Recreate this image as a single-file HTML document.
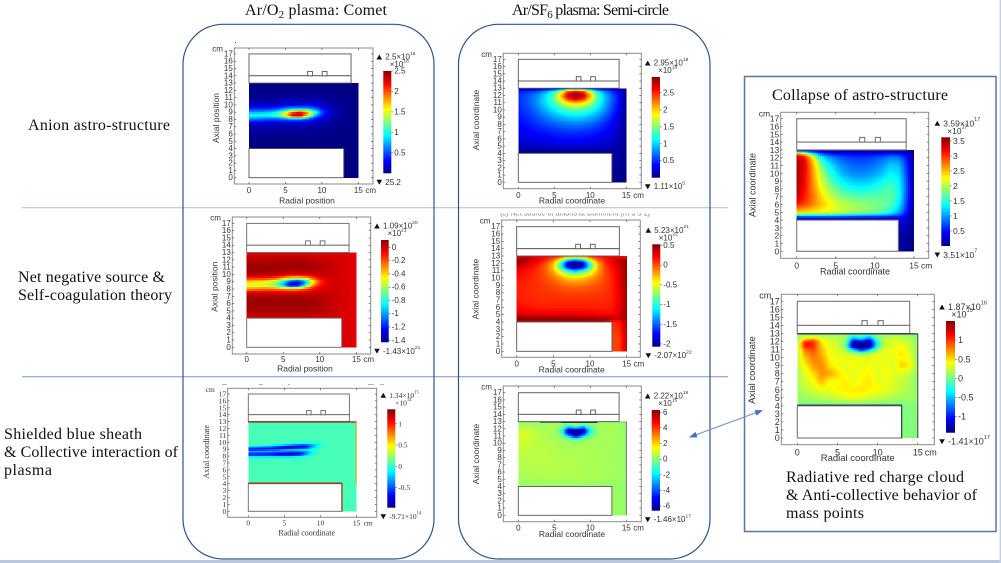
<!DOCTYPE html>
<html lang="en">
<head>
<meta charset="utf-8">
<title>Plasma astro-structure comparison</title>
<style>
html,body{margin:0;padding:0;background:#fff;width:1001px;height:563px;overflow:hidden}
svg{display:block}
.cap{font-family:"Liberation Serif",serif;font-size:16px;fill:#111}
.tick{fill:#333}
#panels{filter:blur(.35px)}
</style>
</head>
<body>
<svg id="root" xmlns="http://www.w3.org/2000/svg" width="1001" height="563" viewBox="0 0 1001 563">
  <defs id="defs">
    <marker id="ah" markerWidth="8" markerHeight="6" refX="7" refY="3" orient="auto-start-reverse"><path d="M0 0L8 3L0 6z" fill="#4472c4"/></marker>
    <clipPath id="clip-cut-title"><rect x="490" y="213.5" width="170" height="4"/></clipPath>
  </defs>
  <rect x="0" y="0" width="1001" height="563" fill="#fff"/>
  <rect x="0" y="560" width="1001" height="3" fill="#b8c7dc"/>
  <rect x="999.6" y="0" width="1.4" height="563" fill="#c3cfe0"/>
  <line x1="22" y1="207.7" x2="728" y2="207.7" stroke="#b4c6de" stroke-width="1.1"/>
  <line x1="22" y1="376.7" x2="728" y2="376.7" stroke="#8ba6c8" stroke-width="1.1"/>
  <rect x="183" y="24.3" width="251" height="534.7" rx="40" ry="40" fill="none" stroke="#2f5589" stroke-width="1.2"/>
  <rect x="458.5" y="24.3" width="251.5" height="534.7" rx="40" ry="40" fill="none" stroke="#2f5589" stroke-width="1.2"/>
  <rect x="744.5" y="76.5" width="251.5" height="455" fill="none" stroke="#5f7699" stroke-width="1.5"/>
  <text class="cap" x="245" y="15" textLength="142">Ar/O<tspan dy="3" font-size="11">2</tspan><tspan dy="-3"> plasma: Comet</tspan></text>
  <text class="cap" x="512" y="15" textLength="157">Ar/SF<tspan dy="3" font-size="11">6</tspan><tspan dy="-3"> plasma: Semi-circle</tspan></text>
  <text class="cap" x="28" y="130" textLength="142">Anion astro-structure</text>
  <text class="cap" x="18" y="282" textLength="147">Net negative source &amp;</text>
  <text class="cap" x="18" y="300" textLength="154">Self-coagulation theory</text>
  <text class="cap" x="4" y="439" textLength="138">Shielded blue sheath</text>
  <text class="cap" x="4" y="457" textLength="174">&amp; Collective interaction of</text>
  <text class="cap" x="4" y="475" textLength="48">plasma</text>
  <text class="cap" x="772" y="100" textLength="176">Collapse of astro-structure</text>
  <text class="cap" x="786" y="482" textLength="178">Radiative red charge cloud</text>
  <text class="cap" x="786" y="500" textLength="191">&amp; Anti-collective behavior of</text>
  <text class="cap" x="786" y="518" textLength="78">mass points</text>
  <line x1="690" y1="437" x2="762" y2="410.5" stroke="#6f8fc9" stroke-width="1" marker-start="url(#ah)" marker-end="url(#ah)"/>
  <circle cx="235.5" cy="42.5" r=".6" fill="#333"/>
  <text clip-path="url(#clip-cut-title)" x="500" y="215.5" textLength="150" font-size="7.5" fill="#777" font-family="'Liberation Sans',sans-serif">(c) Net source of anions at Comment (m-3 s-1)</text>
  <path d="M222 384.5h5M259 384.5h4M288 384.5h2M368 384.5h6M380 384.5h4" stroke="#999" stroke-width=".8" fill="none"/>
  <g id="panels"></g>
</svg>
<script>
// Axis grids (data coordinates in cm)
const tickR = [0, 5, 10, 15];
const tickZ = [0, 1, 2, 3, 4, 5, 6, 7, 8, 9, 10, 11, 12, 13, 14, 15, 16, 17];
const rCols = [0, 1, 2, 3, 4, 5, 6, 7, 8, 9, 10, 11, 12, 13, 14, 15];
const rFoot = [13, 14, 15];
const zFoot = [4, 2, 0];
const zComet = [13, 12.5, 12, 11, 10, 9.5, 9, 8.5, 8, 7.5, 7, 6, 5, 4];
const zFine = [13, 12.6, 12.2, 11.8, 11.4, 11, 10.5, 10, 9, 8, 7, 6, 5, 4.5, 4];
const zStreak = [13, 12, 11, 10, 9.75, 9.5, 9.25, 9, 8.75, 8.5, 8.25, 8, 7.75, 7, 6, 5, 4];

// Field values, rows follow the z grids above, columns follow rCols
const anionCometValues = [
[0,0,0,0,0,0,0,0,0,0,0,0,0,0,0,0],
[.01,.01,.01,.01,.01,.01,.01,.01,.01,.01,.01,.01,.01,.01,.01,0],
[.02,.02,.02,.02,.02,.02,.02,.02,.02,.02,.02,.02,.02,.01,.01,0],
[.04,.04,.04,.05,.05,.06,.06,.06,.06,.06,.06,.05,.03,.02,.01,0],
[.17,.17,.17,.18,.2,.24,.26,.26,.26,.25,.18,.11,.07,.04,.02,0],
[.38,.38,.38,.4,.46,.58,.7,.72,.68,.56,.34,.18,.09,.05,.02,0],
[.72,.72,.75,.82,1,1.45,1.95,2.2,1.9,1.15,.52,.24,.11,.05,.02,0],
[1,1,1,1.02,1.18,1.6,2.3,2.4,1.65,.75,.38,.19,.1,.05,.02,0],
[.6,.55,.5,.47,.47,.5,.55,.55,.44,.3,.2,.12,.07,.04,.02,0],
[.24,.23,.22,.2,.2,.2,.2,.2,.18,.15,.11,.08,.05,.03,.01,0],
[.12,.12,.11,.11,.11,.11,.11,.11,.1,.08,.06,.04,.03,.02,.01,0],
[.04,.04,.04,.04,.04,.04,.04,.04,.04,.03,.02,.02,.01,.01,.01,0],
[.01,.01,.01,.01,.01,.01,.01,.01,.01,.01,.01,.01,.01,.01,0,0],
[0,0,0,0,0,0,0,0,0,0,0,0,0,0,0,0]];
const anionCometFoot = [[0,0,0],[0,0,0],[0,0,0]];

const anionSemiValues = [
[0,.02,.02,.04,.05,.1,.15,.3,.35,.3,.15,.1,.05,.03,.02,0],
[.4,.45,.5,.6,.8,1.1,1.6,2.3,2.5,2.3,1.6,1,.7,.5,.3,.02],
[.5,.55,.65,.8,1.05,1.4,2,2.75,2.95,2.75,2,1.3,.9,.6,.35,.03],
[.5,.58,.7,.85,1.1,1.45,2.1,2.7,2.9,2.7,2.1,1.35,.95,.65,.37,.03],
[.5,.58,.7,.88,1.1,1.4,1.85,2.35,2.55,2.35,1.85,1.3,.95,.65,.37,.03],
[.5,.58,.7,.88,1.08,1.35,1.65,1.95,2.1,1.95,1.65,1.25,.92,.62,.35,.03],
[.48,.56,.68,.82,1,1.2,1.42,1.6,1.7,1.6,1.42,1.15,.88,.6,.34,.03],
[.46,.53,.63,.77,.92,1.08,1.22,1.33,1.38,1.33,1.22,1.03,.8,.56,.32,.03],
[.42,.47,.55,.64,.74,.84,.92,.98,1,.98,.9,.78,.62,.45,.27,.03],
[.37,.41,.46,.52,.58,.63,.68,.71,.72,.7,.66,.58,.47,.36,.23,.03],
[.32,.35,.38,.42,.45,.48,.5,.52,.52,.51,.48,.43,.37,.29,.19,.02],
[.26,.28,.3,.32,.34,.36,.38,.39,.39,.38,.36,.33,.29,.24,.15,.02],
[.18,.19,.2,.22,.23,.24,.25,.25,.25,.25,.24,.22,.2,.17,.1,.01],
[.1,.1,.1,.11,.11,.12,.12,.12,.12,.12,.12,.11,.11,.1,.07,.01],
[0,0,0,0,0,0,0,0,0,0,0,0,0,.12,.08,0]];
const anionSemiFoot = [[.12,.08,.01],[.08,.06,.01],[.03,.03,.01]];

const collapseValues = [
[0,0,.02,.03,.03,.03,.03,.03,.03,.03,.03,.03,.03,.02,.02,0],
[2.4,2,1.1,.65,.45,.37,.35,.33,.33,.33,.35,.38,.44,.4,.28,.02],
[3.3,3,2.1,1.25,.9,.72,.62,.58,.56,.58,.62,.68,.78,.76,.5,.02],
[3.45,3.2,2.45,1.55,1.15,.92,.78,.7,.68,.7,.76,.86,.98,.95,.6,.03],
[3.5,3.25,2.55,1.75,1.28,1.02,.86,.76,.73,.76,.83,.93,1.08,1.05,.65,.03],
[3.5,3.25,2.6,1.9,1.4,1.12,.93,.83,.8,.81,.88,1,1.18,1.14,.68,.03],
[3.5,3.25,2.65,2,1.5,1.2,1,.89,.86,.88,.96,1.08,1.26,1.2,.72,.03],
[3.5,3.2,2.65,2.1,1.6,1.3,1.08,.96,.93,.96,1.03,1.16,1.34,1.26,.75,.03],
[3.5,3.2,2.7,2.2,1.8,1.48,1.3,1.18,1.13,1.15,1.24,1.38,1.5,1.36,.8,.03],
[3.45,3.15,2.72,2.32,1.98,1.72,1.55,1.45,1.4,1.42,1.48,1.58,1.62,1.42,.82,.03],
[3.4,3.1,2.78,2.45,2.15,1.95,1.8,1.7,1.66,1.66,1.68,1.7,1.7,1.44,.8,.03],
[3.1,2.95,2.72,2.52,2.32,2.14,2.04,1.96,1.9,1.85,1.8,1.76,1.65,1.34,.72,.03],
[2.4,2.35,2.3,2.26,2.2,2.12,2.05,1.98,1.92,1.86,1.76,1.65,1.44,1.08,.56,.02],
[1,1,1,1,1,.95,.9,.9,.85,.8,.8,.75,.7,.6,.35,.02],
[.03,.03,.03,.03,.03,.03,.03,.03,.03,.03,.03,.03,.03,.35,.3,.02]];
const collapseFoot = [[.35,.3,.02],[.15,.12,.02],[.08,.06,.01]];

const radiativeValues = [
[.1,.1,.1,.1,.1,.1,.1,.1,.1,.1,.1,.1,.1,.1,.1,0],
[.12,.2,.25,.2,.18,.18,.1,-.3,-.1,-.4,.05,.15,.2,.2,.12,.05],
[.15,.7,.85,.4,.28,.25,.1,-.9,-.7,-1.1,-.05,.25,.3,.25,.2,.08],
[.15,1.15,1.05,.5,.3,.25,.05,-1.3,-1.3,-1.3,-.3,.28,.32,.33,.22,.1],
[.18,1.1,1,.55,.35,.28,0,-1.4,-1.42,-1.35,-.2,.3,.3,.4,.25,.1],
[.18,.85,.95,.6,.35,.32,.15,-.5,-1.1,-.6,.12,.3,.38,.42,.28,.1],
[.2,.7,.85,.62,.38,.32,.28,.2,.05,.2,.3,.38,.32,.5,.35,.1],
[.2,.6,.8,.7,.4,.35,.38,.3,.38,.3,.4,.3,.38,.4,.35,.1],
[.2,.45,.7,.75,.48,.38,.32,.42,.32,.4,.32,.38,.28,.55,.45,.12],
[.18,.32,.5,.72,.68,.5,.38,.32,.4,.42,.32,.38,.35,.3,.22,.1],
[.15,.3,.38,.62,.4,.4,.45,.35,.42,.48,.35,.35,.3,.25,.18,.1],
[.12,.22,.28,.35,.36,.42,.45,.45,.48,.42,.4,.35,.3,.2,.15,.1],
[.1,.12,.15,.18,.22,.28,.32,.38,.3,.28,.22,.2,.15,.15,.12,.1],
[.08,.08,.08,.08,.1,.12,.14,.14,.14,.12,.1,.1,.08,.08,.08,.08],
[.05,.05,.05,.05,.05,.05,.05,.05,.05,.05,.05,.05,.05,.05,.05,.05]];
const radiativeFoot = [[.05,.05,.05],[.05,.05,.05],[.05,.05,.05]];

const netCometValues = [
[-.05,-.05,-.05,-.05,-.05,-.05,-.05,-.05,-.05,-.05,-.05,-.05,-.05,-.05,-.05,-.04],
[-.01,-.01,-.01,-.01,-.01,-.01,-.01,-.01,-.01,-.01,-.02,-.02,-.02,-.03,-.03,-.04],
[.03,.03,.03,.03,.03,.03,.03,.03,.03,.02,.01,0,-.01,-.02,-.03,-.04],
[.07,.07,.07,.07,.07,.07,.07,.07,.07,.06,.04,.02,0,-.02,-.03,-.04],
[.05,.05,.04,.03,.02,.01,-.03,-.03,-.01,-.01,0,0,-.01,-.02,-.03,-.04],
[-.12,-.12,-.12,-.13,-.18,-.3,-.42,-.46,-.38,-.2,-.06,-.02,-.02,-.02,-.03,-.04],
[-.38,-.4,-.42,-.48,-.6,-.85,-1.15,-1.3,-1.05,-.55,-.18,-.04,-.02,-.02,-.03,-.04],
[-.58,-.58,-.58,-.6,-.72,-1,-1.35,-1.3,-.85,-.3,-.1,-.03,-.02,-.02,-.03,-.04],
[-.3,-.28,-.26,-.25,-.26,-.28,-.32,-.3,-.2,-.1,-.04,-.02,-.01,-.02,-.03,-.04],
[-.03,-.03,-.03,-.03,-.03,-.03,-.03,-.03,-.02,-.01,0,0,-.01,-.02,-.03,-.04],
[.05,.05,.05,.05,.05,.05,.05,.05,.05,.04,.03,.01,0,-.02,-.03,-.04],
[.07,.07,.07,.07,.07,.07,.07,.07,.07,.06,.04,.02,0,-.02,-.03,-.04],
[.05,.05,.05,.05,.05,.05,.05,.05,.05,.04,.03,.02,0,-.02,-.03,-.04],
[-.03,-.03,-.03,-.03,-.03,-.03,-.03,-.03,-.03,-.03,-.03,-.03,-.03,-.03,-.03,-.04]];
const netCometFoot = [[-.03,-.03,-.04],[-.03,-.03,-.04],[-.03,-.03,-.04]];

const netSemiValues = [
[.25,.25,.25,.2,.2,.15,.05,-.1,-.1,-.1,.05,.15,.2,.2,.2,.1],
[.45,.42,.35,.28,.15,0,-.3,-.8,-1,-.8,-.3,0,.15,.25,.35,.45],
[.48,.4,.3,.2,.05,-.2,-.8,-1.7,-1.95,-1.7,-.85,-.2,.1,.25,.38,.48],
[.38,.3,.22,.12,-.02,-.3,-1,-1.95,-2.07,-1.95,-1.05,-.3,.05,.2,.35,.48],
[.3,.25,.18,.1,-.03,-.3,-.9,-1.75,-2,-1.75,-.95,-.3,.03,.18,.32,.48],
[.25,.2,.15,.08,-.03,-.25,-.65,-1.1,-1.35,-1.1,-.68,-.27,.02,.15,.3,.48],
[.2,.17,.13,.07,-.02,-.15,-.38,-.6,-.7,-.6,-.4,-.17,.02,.14,.28,.48],
[.17,.15,.12,.07,0,-.08,-.2,-.32,-.36,-.32,-.22,-.1,.02,.12,.28,.48],
[.13,.12,.1,.08,.05,.02,-.03,-.06,-.08,-.07,-.03,0,.05,.12,.26,.46],
[.12,.12,.1,.09,.08,.07,.05,.04,.04,.04,.05,.06,.08,.12,.25,.46],
[.14,.13,.12,.1,.1,.1,.1,.1,.1,.1,.1,.1,.1,.14,.25,.46],
[.18,.17,.15,.14,.13,.13,.13,.13,.13,.13,.13,.13,.13,.15,.25,.46],
[.3,.28,.27,.25,.25,.25,.25,.25,.25,.25,.24,.22,.2,.2,.28,.46],
[.5,.5,.5,.5,.5,.5,.48,.48,.48,.48,.46,.46,.45,.4,.35,.46],
[.4,.4,.4,.4,.4,.4,.4,.4,.4,.4,.4,.4,.4,.1,.15,.4]];
const netSemiFoot = [[.1,.15,.4],[.03,.05,.35],[.03,.05,.35]];

const shieldCometValues = [
[.06,.06,.06,.06,.06,.06,.06,.06,.06,.06,.06,.06,.06,.06,.06,.06],
[.06,.06,.06,.06,.06,.06,.06,.06,.06,.06,.06,.06,.06,.06,.06,.06],
[.06,.06,.06,.06,.06,.06,.06,.06,.06,.06,.06,.06,.06,.06,.06,.06],
[.06,.06,.06,.06,.06,.06,.03,.03,.03,.03,.06,.06,.06,.06,.06,.06],
[.06,.06,.06,.06,.03,0,-.06,-.12,-.18,-.12,.01,.06,.06,.06,.06,.06],
[0,0,-.04,-.06,-.28,-.43,-.6,-.8,-.75,-.38,-.05,.05,.06,.06,.06,.06],
[-.33,-.38,-.5,-.6,-.75,-.85,-.9,-.8,-.65,-.18,0,.06,.06,.06,.06,.06],
[-.85,-.85,-.8,-.75,-.7,-.5,-.38,-.28,-.22,-.05,.04,.06,.06,.06,.06,.06],
[-.28,-.28,-.23,-.18,-.18,-.13,-.13,-.13,-.13,-.03,.05,.06,.06,.06,.06,.06],
[-.28,-.28,-.33,-.38,-.5,-.6,-.75,-.7,-.5,-.07,.05,.06,.06,.06,.06,.06],
[-.85,-.85,-.85,-.85,-.9,-.95,-.95,-.85,-.33,-.02,.05,.06,.06,.06,.06,.06],
[-.28,-.28,-.28,-.28,-.33,-.33,-.28,-.18,-.04,.04,.06,.06,.06,.06,.06,.06],
[.01,.01,.01,.01,.01,.01,.01,.01,.04,.06,.06,.06,.06,.06,.06,.06],
[.06,.06,.06,.06,.06,.06,.06,.06,.06,.06,.06,.06,.06,.06,.06,.06],
[.06,.06,.06,.06,.06,.06,.06,.06,.06,.06,.06,.06,.06,.06,.06,.06],
[.06,.06,.06,.06,.06,.06,.06,.06,.06,.06,.06,.06,.06,.06,.06,.06],
[.06,.06,.06,.06,.06,.06,.06,.06,.06,.06,.06,.06,.06,.06,.06,.06]];
const shieldCometFoot = [[.06,.06,.06],[.06,.06,.06],[.06,.06,.06]];

const shieldSemiValues = [
[.2,.2,.2,.2,.2,.2,.2,.2,.2,.2,.2,.2,.2,.2,.2,.1],
[.2,.25,.25,.2,.3,.3,.2,-.3,.7,-.3,-.1,.2,.3,.3,.2,.1],
[.5,.6,.45,.35,.35,.35,0,-3,-2,-3.5,-.6,.2,.35,.35,.25,.1],
[.7,.85,.65,.5,.4,.3,-.9,-6,-6,-6,-1.6,.1,.35,.35,.25,.1],
[.8,.95,.75,.55,.45,.3,-.6,-6,-6.3,-6,-1,.1,.35,.35,.25,.1],
[.85,1,.75,.55,.45,.35,0,-2.5,-5.5,-2.5,-.3,.2,.35,.35,.25,.1],
[.85,.95,.75,.55,.5,.4,.3,0,-.5,0,.2,.3,.35,.35,.25,.1],
[.75,.85,.7,.6,.5,.42,.35,.35,.25,.35,.35,.35,.35,.35,.25,.1],
[.65,.7,.65,.6,.55,.5,.42,.42,.42,.42,.4,.35,.35,.3,.25,.1],
[.55,.6,.6,.6,.55,.55,.5,.48,.42,.42,.42,.4,.35,.3,.25,.1],
[.5,.55,.58,.58,.55,.55,.5,.48,.48,.42,.42,.4,.35,.3,.25,.1],
[.4,.45,.48,.52,.52,.52,.48,.48,.48,.42,.4,.4,.35,.3,.25,.1],
[.25,.32,.35,.4,.42,.42,.42,.42,.42,.38,.35,.35,.28,.25,.22,.1],
[.2,.2,.22,.22,.25,.25,.25,.25,.25,.22,.22,.2,.2,.2,.2,.1],
[.2,.2,.2,.2,.2,.2,.2,.2,.2,.2,.2,.2,.2,.2,.2,.1]];
const shieldSemiFoot = [[.2,.2,.1],[.2,.2,.1],[.2,.2,.1]];

// Colour-bar tick labels
const anionCometBarTicks = [2.5, 2, 1.5, 1, 0.5];
const anionSemiBarTicks = [2.5, 2, 1.5, 1, 0.5];
const collapseBarTicks = [3.5, 3, 2.5, 2, 1.5, 1, 0.5];
const radiativeBarTicks = [1, 0.5, 0, -0.5, -1];
const netCometBarTicks = [0, -0.2, -0.4, -0.6, -0.8, -1, -1.2, -1.4];
const netSemiBarTicks = [0.5, 0, -0.5, -1, -1.5, -2];
const shieldCometBarTicks = [1, 0.5, 0, -0.5];
const shieldSemiBarTicks = [6, 4, 2, 0, -2, -4, -6];

// Panel layout in page pixels (kept apart from the data arrays)
const panels = [
 {id:'anion-comet',rows:anionCometValues,zRows:zComet,foot:anionCometFoot,barTicks:anionCometBarTicks,vmin:0,vmax:2.5,max:['2.5×10','16'],scale:'16',min:['25.2',''],xTitle:'Radial position',yTitle:'Axial position',font:8,
  fx0:234.3,fy0:48,fx1:373,fy1:184,r0:249,rPx:7.29,z0:177.7,zPx:7.28,bx0:383.3,by0:71,bx1:391.3,by1:173.3,yTitleX:216,yTitleY:118,xTitleX:307,xTitleY:200.7,xTickY:190.7,line:'#555',lw:.9,sheath:[]},
 {id:'anion-semicircle',rows:anionSemiValues,zRows:zFine,foot:anionSemiFoot,barTicks:anionSemiBarTicks,vmin:0,vmax:2.97,max:['2.95×10','18'],scale:'18',min:['1.11×10','5'],xTitle:'Radial coordinate',yTitle:'Axial coordinate',font:8,
  fx0:503.3,fy0:53.3,fx1:641.3,fy1:188.7,r0:518.3,rPx:7.2,z0:182.3,zPx:7.235,bx0:651.7,by0:77,bx1:660,by1:177.7,yTitleX:476,yTitleY:120,xTitleX:572,xTitleY:200.7,xTickY:195.7,line:'#555',lw:.9,sheath:[]},
 {id:'collapse',rows:collapseValues,zRows:zFine,foot:collapseFoot,barTicks:collapseBarTicks,vmin:0,vmax:3.62,max:['3.59×10','17'],scale:'17',min:['3.51×10','7'],xTitle:'Radial coordinate',yTitle:'Axial coordinate',font:8.5,
  fx0:780.7,fy0:112.3,fx1:928.7,fy1:258.3,r0:796.7,rPx:7.82,z0:251.3,zPx:7.8,bx0:941.3,by0:137.3,bx1:950,by1:246,yTitleX:752.7,yTitleY:185,xTitleX:855,xTitleY:271.7,xTickY:265.7,line:'#777',lw:1.1,sheath:[]},
 {id:'radiative',rows:radiativeValues,zRows:zFine,foot:radiativeFoot,barTicks:radiativeBarTicks,vmin:-1.42,vmax:1.5,max:['1.87×10','16'],scale:'15',min:['-1.41×10','17'],xTitle:'Radial coordinate',yTitle:'Axial coordinate',font:9,
  fx0:781.3,fy0:294.3,fx1:934.3,fy1:444.7,r0:797.3,rPx:8.03,z0:438,zPx:8.04,bx0:946,by0:321,bx1:955,by1:432.7,yTitleX:752.3,yTitleY:370,xTitleX:857.7,xTitleY:458.3,xTickY:452.3,line:'#777',lw:1.1,
  sheath:[[0,12.95,15,12.95,'#2d2a55',1.2],[15,13,15,0,'#555',1.2],[0,4.1,13,4.1,'#26305f',1.1],[13,4.1,13,0,'#26305f',1]]},
 {id:'net-comet',rows:netCometValues,zRows:zComet,foot:netCometFoot,barTicks:netCometBarTicks,vmin:-1.43,vmax:.11,max:['1.09×10','20'],scale:'21',min:['-1.43×10','21'],xTitle:'Radial position',yTitle:'Axial position',font:8,
  fx0:232.3,fy0:217,fx1:370.7,fy1:354,r0:246.7,rPx:7.31,z0:347.3,zPx:7.29,bx0:381,by0:240,bx1:388.7,by1:342.3,yTitleX:214.7,yTitleY:286.7,xTitleX:305,xTitleY:368.7,xTickY:359.3,line:'#666',lw:.9,sheath:[]},
 {id:'net-semicircle',rows:netSemiValues,zRows:zFine,foot:netSemiFoot,barTicks:netSemiBarTicks,vmin:-2.07,vmax:.53,max:['5.23×10','21'],scale:'22',min:['-2.07×10','22'],xTitle:'Radial coordinate',yTitle:'Axial coordinate',font:8,
  fx0:501.7,fy0:220,fx1:640.3,fy1:357.3,r0:516.7,rPx:7.33,z0:351.3,zPx:7.33,bx0:652.3,by0:244.3,bx1:660.3,by1:346.7,yTitleX:475.7,yTitleY:289,xTitleX:571.7,xTitleY:369.7,xTickY:364,line:'#555',lw:.9,sheath:[]},
 {id:'shielded-comet',rows:shieldCometValues,zRows:zStreak,foot:shieldCometFoot,barTicks:shieldCometBarTicks,vmin:-.97,vmax:1.34,max:['1.34×10','15'],scale:'14',min:['-9.71×10','14'],xTitle:'Radial coordinate',yTitle:'Axial coordinate',font:7.5,serif:true,
  fx0:227.7,fy0:388.3,fx1:376.7,fy1:517.3,r0:248.3,rPx:7.22,z0:511.3,zPx:6.9,bx0:387.3,by0:409.3,bx1:395.3,by1:507.7,yTitleX:206.7,yTitleY:451.7,xTitleX:306.7,xTitleY:533,xTickY:523,line:'#666',lw:.9,
  sheath:[[0,12.95,15,12.95,'#a40000',1.2],[14.95,13,14.95,4,'#e8a020',1],[0,4.1,12.9,4.1,'#c01800',1.1],[12.95,4.1,12.95,0,'#a03000',1]]},
 {id:'shielded-semicircle',rows:shieldSemiValues,zRows:zFine,foot:shieldSemiFoot,barTicks:shieldSemiBarTicks,vmin:-6.6,vmax:6.3,max:['2.22×10','16'],scale:'15',min:['-1.46×10','17'],xTitle:'Radial coordinate',yTitle:'Axial coordinate',font:8,
  fx0:503.3,fy0:386,fx1:641.3,fy1:521.7,r0:518.3,rPx:7.2,z0:515.3,zPx:7.21,bx0:651.7,by0:410,bx1:660,by1:510.7,yTitleX:476,yTitleY:454,xTitleX:572,xTitleY:534,xTickY:528,line:'#555',lw:.9,
  sheath:[[3,12.9,6,12.9,'#3a2a60',1],[6,12.9,11,12.9,'#2a1f50',1.3],[0,12.95,15,12.95,'#6a7a80',.5],[15,13,15,0,'#555',.8]]}
];

const NS = 'http://www.w3.org/2000/svg';
const host = document.getElementById('panels');
const defs = document.getElementById('defs');

function clamp01(v){ return Math.max(0, Math.min(1, v)); }
function jet(t){
  const c = clamp01(t);
  const ch = o => Math.round(255 * clamp01(1.5 - Math.abs(4 * c - o)));
  return 'rgb(' + ch(3) + ',' + ch(2) + ',' + ch(1) + ')';
}
function make(tag, parent, attrs){
  const e = document.createElementNS(NS, tag);
  for (const k in attrs) e.setAttribute(k, attrs[k]);
  parent.appendChild(e);
  return e;
}
function axisIndex(axis, v){
  const asc = axis[0] < axis[axis.length - 1];
  for (let i = 0; i < axis.length - 2; i++) {
    if (asc ? v <= axis[i + 1] : v >= axis[i + 1]) return i;
  }
  return axis.length - 2;
}
function sample(rows, rAxis, zAxis, r, z){
  const i = axisIndex(rAxis, r), j = axisIndex(zAxis, z);
  const a = (r - rAxis[i]) / (rAxis[i + 1] - rAxis[i]);
  const b = (z - zAxis[j]) / (zAxis[j + 1] - zAxis[j]);
  return (1 - b) * ((1 - a) * rows[j][i] + a * rows[j][i + 1]) + b * ((1 - a) * rows[j + 1][i] + a * rows[j + 1][i + 1]);
}
function drawField(group, p, rows, rAxis, zAxis, sx, sy, colour){
  const dr = 0.25;
  for (let j = 0; j < zAxis.length - 1; j++) {
    const parts = Math.max(1, Math.ceil((zAxis[j] - zAxis[j + 1]) / 0.25));
    const dz = (zAxis[j] - zAxis[j + 1]) / parts;
    for (let k = 0; k < parts; k++) {
      const zTop = zAxis[j] - k * dz;
      for (let r = rAxis[0]; r < rAxis[rAxis.length - 1] - 1e-6; r += dr) {
        const cell = document.createElementNS(NS, 'rect');
        
        
        cell.setAttribute('x', sx(r).toFixed(2));
        cell.setAttribute('y', sy(zTop).toFixed(2));
        cell.setAttribute('width', (sx(r + dr) - sx(r) + 0.1).toFixed(2));
        cell.setAttribute('height', (sy(zTop - dz) - sy(zTop) + 0.1).toFixed(2));
        cell.setAttribute('fill', colour(sample(rows, rAxis, zAxis, r + dr / 2, zTop - dz / 2)));
        group.appendChild(cell);
      }
    }
  }
}
function addText(parent, name, x, y, str, size, opts){
  const o = opts || {};
  const t = document.createElementNS(NS, 'text');
  
  
  t.setAttribute('x', x);
  t.setAttribute('y', y);
  t.setAttribute('font-size', size);
  t.setAttribute('fill', '#333');
  t.setAttribute('font-family', o.serif ? '"Liberation Serif",serif' : '"Liberation Sans",sans-serif');
  t.setAttribute('dominant-baseline', 'central');
  t.setAttribute('text-anchor', o.anchor || 'start');
  if (o.rotate) t.setAttribute('transform', 'rotate(-90 ' + x + ' ' + y + ')');
  t.textContent = str;
  if (o.exp) {
    const s = document.createElementNS(NS, 'tspan');
    s.setAttribute('font-size', size * 0.62);
    s.setAttribute('dy', -size * 0.4);
    s.textContent = o.exp;
    t.appendChild(s);
  }
  parent.appendChild(t);
  return t;
}
function addLine(parent, name, x1, y1, x2, y2, stroke, w){
  const l = document.createElementNS(NS, 'line');
  
  
  l.setAttribute('x1', x1);
  l.setAttribute('y1', y1);
  l.setAttribute('x2', x2);
  l.setAttribute('y2', y2);
  l.setAttribute('stroke', stroke);
  l.setAttribute('stroke-width', w);
  parent.appendChild(l);
  return l;
}
function addBox(parent, name, x, y, w, h, stroke, sw, fill){
  const b = document.createElementNS(NS, 'rect');
  
  
  b.setAttribute('x', x);
  b.setAttribute('y', y);
  b.setAttribute('width', w);
  b.setAttribute('height', h);
  b.setAttribute('fill', fill);
  b.setAttribute('stroke', stroke);
  b.setAttribute('stroke-width', sw);
  parent.appendChild(b);
  return b;
}

panels.forEach(function(p){
  const g = document.createElementNS(NS, 'g');
  
  
  host.appendChild(g);

  const sx = r => p.r0 + r * p.rPx;
  const sy = z => p.z0 - z * p.zPx;
  const colour = v => jet((v - p.vmin) / (p.vmax - p.vmin));
  const by = v => p.by1 - (v - p.vmin) / (p.vmax - p.vmin) * (p.by1 - p.by0);
  const sOpts = {serif: !!p.serif};

  addBox(g, 'plot-frame', p.fx0, p.fy0, p.fx1 - p.fx0, p.fy1 - p.fy0, '#8a8a8a', 1, '#fff');

  const heat = document.createElementNS(NS, 'g');
  
  
  heat.setAttribute('shape-rendering', 'crispEdges');
  g.appendChild(heat);
  drawField(heat, p, p.rows, rCols, p.zRows, sx, sy, colour);
  drawField(heat, p, p.foot, rFoot, zFoot, sx, sy, colour);

  // axis ticks
  tickZ.forEach(function(z){
    addLine(g, 'y-tick', p.fx0, sy(z), p.fx0 + 2, sy(z), '#555', .7);
    addLine(g, 'y-tick-right', p.fx1 - 2, sy(z), p.fx1, sy(z), '#555', .7);
    addText(g, 'y-tick-label', p.fx0 - 1.5, sy(z), String(z), p.font, {anchor:'end', serif:p.serif});
  });
  tickR.forEach(function(r){
    addLine(g, 'x-tick', sx(r), p.fy1 - 2, sx(r), p.fy1, '#555', .7);
    addLine(g, 'x-tick-top', sx(r), p.fy0, sx(r), p.fy0 + 2, '#555', .7);
    addText(g, 'x-tick-label', sx(r), p.xTickY, String(r), p.font, {anchor:'middle', serif:p.serif});
  });
  addText(g, 'x-unit-label', sx(15) + 7, p.xTickY, 'cm', p.font, sOpts);
  addText(g, 'y-unit-label', p.fx0 - 22, p.fy0 + 1, 'cm', p.font, sOpts);
  addText(g, 'x-axis-title', p.xTitleX, p.xTitleY, p.xTitle, p.font + .5, {anchor:'middle', serif:p.serif});
  addText(g, 'y-axis-title', p.yTitleX, p.yTitleY, p.yTitle, p.font + .5, {anchor:'middle', rotate:true, serif:p.serif});

  // reactor geometry
  addBox(g, 'reactor-upper-chamber', sx(0), sy(17), sx(14) - sx(0), sy(14) - sy(17), p.line, p.lw, '#fff');
  addBox(g, 'reactor-gap', sx(0), sy(14), sx(14) - sx(0), sy(13) - sy(14), p.line, p.lw, '#fff');
  addBox(g, 'coil-left', sx(8.05), sy(14.6), .65 * p.rPx, .6 * p.zPx, p.line, p.lw, '#fff');
  addBox(g, 'coil-right', sx(10.05), sy(14.6), .65 * p.rPx, .6 * p.zPx, p.line, p.lw, '#fff');
  addBox(g, 'reactor-pedestal', sx(0), sy(4), sx(13) - sx(0), sy(0) - sy(4), p.line, p.lw, '#fff');

  // boundary sheath strokes
  p.sheath.forEach(function(s){
    addLine(g, 'boundary-sheath', sx(s[0]), sy(s[1]), sx(s[2]), sy(s[3]), s[4], s[5]);
  });

  // colour bar
  const gid = 'grad-' + p.id;
  const grad = make('linearGradient', defs, {id:gid, x1:0, y1:1, x2:0, y2:0});
  [0, .125, .25, .375, .5, .625, .75, .875, 1].forEach(function(t){
    make('stop', grad, {offset:t, 'stop-color':jet(t)});
  });
  addBox(g, 'colorbar', p.bx0, p.by0, p.bx1 - p.bx0, p.by1 - p.by0, 'none', 0, 'url(#' + gid + ')');
  p.barTicks.forEach(function(v){
    addLine(g, 'colorbar-tick', p.bx1, by(v), p.bx1 + 1.5, by(v), '#333', .6);
    addText(g, 'colorbar-tick-label', p.bx1 + 3, by(v), String(v), p.font, sOpts);
  });
  const upY = p.by0 - 14, dnY = p.by1 + 9, tx = p.bx0 - 4;
  const up = document.createElementNS(NS, 'path');
  
  
  up.setAttribute('d', 'M' + (tx - 2.8) + ' ' + (upY + 2.5) + 'L' + (tx + 2.8) + ' ' + (upY + 2.5) + 'L' + tx + ' ' + (upY - 2.5) + 'z');
  up.setAttribute('fill', '#111');
  g.appendChild(up);
  const dn = document.createElementNS(NS, 'path');
  
  
  dn.setAttribute('d', 'M' + (tx - 2.8) + ' ' + (dnY - 2.5) + 'L' + (tx + 2.8) + ' ' + (dnY - 2.5) + 'L' + tx + ' ' + (dnY + 2.5) + 'z');
  dn.setAttribute('fill', '#111');
  g.appendChild(dn);
  addText(g, 'max-value-label', p.bx0 + 2, upY, p.max[0], p.font, {exp:p.max[1], serif:p.serif});
  addText(g, 'colorbar-scale-label', p.bx0 + 16, p.by0 - 6.5, '×10', p.font, {exp:p.scale, anchor:'middle', serif:p.serif});
  addText(g, 'min-value-label', p.bx0 + 2, dnY, p.min[0], p.font, {exp:p.min[1], serif:p.serif});
});
</script>
</body>
</html>
